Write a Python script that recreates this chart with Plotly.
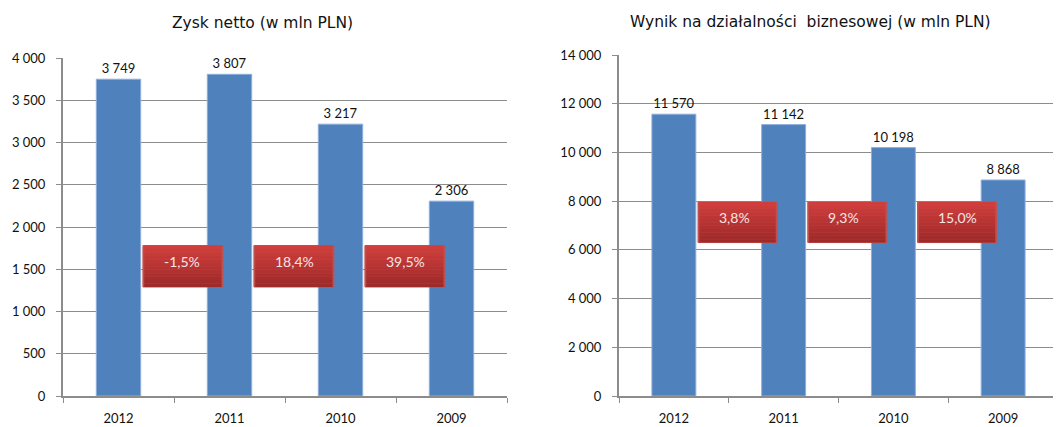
import plotly.graph_objects as go

years = ["2012", "2011", "2010", "2009"]
net_profit = [3749, 3807, 3217, 2306]
business_result = [11570, 11142, 10198, 8868]
net_profit_change = ["-1,5%", "18,4%", "39,5%"]
business_change = ["3,8%", "9,3%", "15,0%"]

title_left = "Zysk netto (w mln PLN)"
title_right = "Wynik na działalności  biznesowej (w mln PLN)"

BAR = "#4f81bd"
GRID = "#8c8c8c"
FONT = "Lato"
TITLE_FONT = "DejaVu Sans"

# page body has an 8px margin; figure is sized so that it ends at the window edge
W, H = 1053, 419
OFF = 8

def px_x(x):
    return (x - OFF) / W

def px_y(y):
    return 1 - (y - OFF) / H

fig = go.Figure()
fig.add_trace(go.Bar(x=years, y=net_profit, xaxis="x", yaxis="y",
                     marker=dict(color=BAR, line=dict(color="#8eaedb", width=1)),
                     texttemplate="%{y:,}", textposition="outside",
                     textfont=dict(size=13, color="#111", family=FONT),
                     cliponaxis=False, showlegend=False))
fig.add_trace(go.Bar(x=years, y=business_result, xaxis="x2", yaxis="y2",
                     marker=dict(color=BAR, line=dict(color="#8eaedb", width=1)),
                     texttemplate="%{y:,}", textposition="outside",
                     textfont=dict(size=13, color="#111", family=FONT),
                     cliponaxis=False, showlegend=False))

shapes = []
annotations = []
# gradient-like red boxes (layered strips)
top_rgb = (208, 62, 60)
bot_rgb = (158, 42, 42)
def add_box(xref, yref, i, y0, y1, label):
    x0 = i + 0.22
    x1 = i + 0.94
    n = 12
    shapes.append(dict(type="rect", xref=xref, yref=yref, x0=x0, x1=x1, y0=y0, y1=y1,
                       fillcolor="#c0504d", line=dict(color="#c0504d", width=1), layer="above"))
    for k in range(n):
        t = k / (n - 1)
        c = tuple(int(top_rgb[j] + (bot_rgb[j] - top_rgb[j]) * t) for j in range(3))
        ya = y1 - (y1 - y0) * k / n
        yb = y1 - (y1 - y0) * (k + 1) / n
        shapes.append(dict(type="rect", xref=xref, yref=yref, x0=x0 + 0.012, x1=x1 - 0.012,
                           y0=yb, y1=ya, fillcolor="rgb(%d,%d,%d)" % c,
                           line=dict(width=0), layer="above"))
    annotations.append(dict(xref=xref, yref=yref, x=x0 + 0.17, y=y0 + (y1 - y0) * 0.62,
                            text=label, showarrow=False, xanchor="left", yanchor="middle",
                            font=dict(size=14, color="#f6e4e4", family=FONT)))

for i, lab in enumerate(net_profit_change):
    add_box("x", "y", i, 1290, 1780, lab)
for i, lab in enumerate(business_change):
    add_box("x2", "y2", i, 6300, 7960, lab)

annotations.append(dict(xref="paper", yref="paper", x=px_x(262), y=px_y(23), text=title_left,
                        showarrow=False, xanchor="center", yanchor="middle",
                        font=dict(size=15.5, color="#111", family=TITLE_FONT)))
annotations.append(dict(xref="paper", yref="paper", x=px_x(810), y=px_y(22), text=title_right,
                        showarrow=False, xanchor="center", yanchor="middle",
                        font=dict(size=15.5, color="#111", family=TITLE_FONT)))

xcommon = dict(type="category", showline=True, linecolor=GRID, linewidth=2,
               ticks="outside", ticklen=5, tickcolor=GRID, tickson="boundaries",
               tickfont=dict(size=13, color="#111", family=FONT), showgrid=False,
               ticklabelstandoff=9, fixedrange=True, automargin=False)
ycommon = dict(showline=True, linecolor=GRID, linewidth=2, ticks="outside", ticklen=5,
               tickcolor=GRID, showgrid=True, gridcolor=GRID, gridwidth=1,
               tickformat=",", tickfont=dict(size=13, color="#111", family=FONT),
               zeroline=False, ticklabelstandoff=8, automargin=False)

fig.update_layout(
    template="none",
    width=W, height=H, margin=dict(l=0, r=0, t=0, b=0, pad=0, autoexpand=False),
    paper_bgcolor="white", plot_bgcolor="white",
    separators=", ",
    bargap=0.6,
    xaxis=dict(domain=[px_x(63), px_x(507)], anchor="y", **xcommon),
    xaxis2=dict(domain=[px_x(619), min(1.0, px_x(1058))], anchor="y2", **xcommon),
    yaxis=dict(domain=[px_y(396), px_y(58)], range=[0, 4000], dtick=500, anchor="x", **ycommon),
    yaxis2=dict(domain=[px_y(396), px_y(55)], range=[0, 14000], dtick=2000, anchor="x2", **ycommon),
    shapes=shapes, annotations=annotations,
)

fig.write_html("out.html")
